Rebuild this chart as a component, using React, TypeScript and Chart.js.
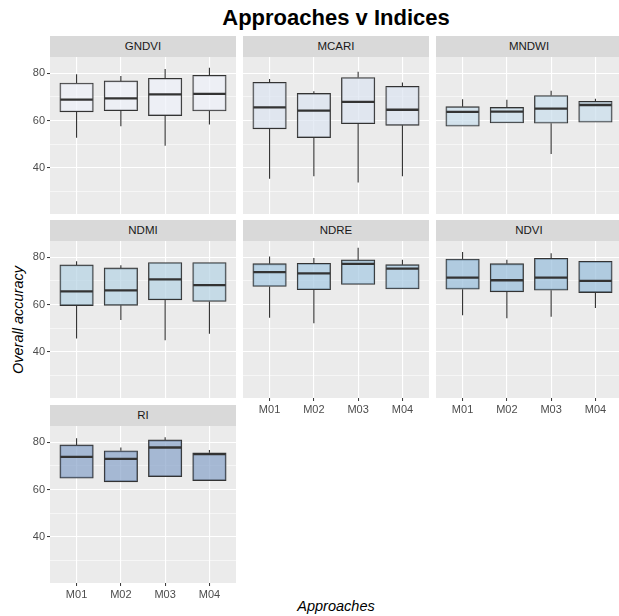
import React, { useEffect, useRef } from 'react';
import { Chart, registerables } from 'chart.js';

Chart.register(...registerables);

const approaches = ['M01', 'M02', 'M03', 'M04'];
const indexNames = ['GNDVI', 'MCARI', 'MNDWI', 'NDMI', 'NDRE', 'NDVI', 'RI'];

// five-number summaries per approach: [min, q1, median, q3, max]
const gndvi = [[52.7, 63.7, 68.9, 75.9, 79.6], [57.6, 64.2, 69.4, 76.8, 78.9], [49.4, 62.1, 71.1, 77.9, 81.8], [58.4, 64.1, 71.3, 79.2, 82.4]];
const mcari = [[35.4, 56.5, 65.6, 76.2, 77.6], [36.5, 52.8, 64.2, 71.5, 72.4], [33.8, 58.7, 67.9, 78.2, 80.7], [36.5, 58.0, 64.6, 74.5, 76.1]];
const mndwi = [[57.6, 57.6, 63.7, 65.9, 69.0], [59.0, 59.0, 63.8, 65.6, 68.8], [45.9, 58.9, 65.1, 70.6, 72.6], [59.3, 59.3, 66.6, 68.2, 69.2]];
const ndmi = [[45.7, 59.6, 65.6, 76.8, 78.3], [53.5, 59.7, 66.0, 75.5, 76.6], [44.9, 62.0, 70.7, 77.8, 77.8], [47.7, 61.3, 68.2, 77.8, 77.8]];
const ndre = [[54.4, 67.7, 73.7, 77.3, 80.3], [52.1, 66.3, 73.2, 77.5, 79.7], [68.5, 68.5, 77.2, 78.9, 84.0], [66.6, 66.6, 75.2, 76.9, 79.0]];
const ndvi = [[55.5, 66.5, 71.4, 79.3, 82.3], [54.2, 65.4, 70.3, 77.3, 79.0], [54.9, 66.1, 71.4, 79.6, 81.7], [58.6, 65.1, 70.0, 78.3, 78.3]];
const ri = [[64.8, 64.8, 73.8, 78.9, 81.7], [63.3, 63.3, 73.0, 76.4, 77.8], [65.5, 65.5, 77.8, 81.0, 82.1], [63.8, 63.8, 75.0, 75.6, 76.8]];

const allStats = [gndvi, mcari, mndwi, ndmi, ndre, ndvi, ri];
const fills = [
  'rgba(238,241,249,0.7)',
  'rgba(219,228,241,0.7)',
  'rgba(201,222,236,0.7)',
  'rgba(181,211,228,0.7)',
  'rgba(165,201,226,0.7)',
  'rgba(151,189,219,0.7)',
  'rgba(136,162,201,0.7)',
];

const yTicks = [30, 40, 50, 60, 70, 80];
const yLabelled = [40, 60, 80];
const yMin = 20.5;
const yMax = 86.9;

const FONT = "'Liberation Sans', Arial, sans-serif";
const colLeft = [50, 243, 436];
const panelTop = [57, 241, 426];
const panelW = 186;
const panelH = 157;
const yAxisW = 24;
const xAxisH = 20;

const bgPlugin = {
  id: 'panelBg',
  beforeDraw(chart: any) {
    const { ctx, chartArea } = chart;
    ctx.save();
    ctx.fillStyle = '#EBEBEB';
    ctx.fillRect(chartArea.left, chartArea.top, chartArea.right - chartArea.left, chartArea.bottom - chartArea.top);
    ctx.restore();
  },
};

function makeBoxPlugin(stats: number[][]) {
  return {
    id: 'boxExtras',
    afterDatasetsDraw(chart: any) {
      const { ctx, chartArea } = chart;
      const xs = chart.scales.x;
      const ys = chart.scales.y;
      const meta = chart.getDatasetMeta(0);
      ctx.save();
      ctx.beginPath();
      ctx.rect(chartArea.left, chartArea.top, chartArea.right - chartArea.left, chartArea.bottom - chartArea.top);
      ctx.clip();
      ctx.strokeStyle = '#333333';
      stats.forEach((s, i) => {
        const px = xs.getPixelForValue(i + 1);
        const half = (meta.data[i] ? meta.data[i].width : 33.5) / 2;
        ctx.lineWidth = 1.1;
        ctx.beginPath();
        ctx.moveTo(px, ys.getPixelForValue(s[3]));
        ctx.lineTo(px, ys.getPixelForValue(s[4]));
        ctx.moveTo(px, ys.getPixelForValue(s[1]));
        ctx.lineTo(px, ys.getPixelForValue(s[0]));
        ctx.stroke();
        ctx.lineWidth = 2.3;
        ctx.beginPath();
        const my = ys.getPixelForValue(s[2]);
        ctx.moveTo(px - half + 0.5, my);
        ctx.lineTo(px + half - 0.5, my);
        ctx.stroke();
      });
      ctx.restore();
    },
  };
}

function Panel({ idx }: { idx: number }) {
  const ref = useRef<HTMLCanvasElement | null>(null);
  const col = idx % 3;
  const row = Math.floor(idx / 3);
  const showY = col === 0;
  const showX = idx >= 4;
  const stats = allStats[idx];
  const left = colLeft[col] - (showY ? yAxisW : 0);
  const top = panelTop[row];
  const w = panelW + (showY ? yAxisW : 0);
  const h = panelH + (showX ? xAxisH : 0);

  useEffect(() => {
    if (!ref.current) return;
    const boxes = stats.map((s, i) => ({ x: i + 1, y: [s[1], s[3]] }));
    const chart = new Chart(ref.current, {
      type: 'bar',
      data: {
        datasets: [
          {
            data: boxes as any,
            backgroundColor: fills[idx],
            borderColor: '#333333',
            borderWidth: 1.1,
            borderSkipped: false,
            barThickness: 33.5,
          } as any,
        ],
      },
      options: {
        animation: false,
        responsive: false,
        maintainAspectRatio: false,
        layout: { padding: 0 },
        plugins: { legend: { display: false }, tooltip: { enabled: false }, title: { display: false } },
        scales: {
          x: {
            type: 'linear',
            min: 0.4,
            max: 4.6,
            offset: false,
            afterBuildTicks: (s: any) => {
              s.ticks = approaches.map((_, i) => ({ value: i + 1 }));
            },
            afterFit: (s: any) => {
              s.height = showX ? xAxisH : 0;
              s.paddingLeft = 0;
              s.paddingRight = 0;
              s.paddingTop = 0;
              s.paddingBottom = 0;
            },
            ticks: {
              display: showX,
              autoSkip: false,
              maxRotation: 0,
              padding: 2,
              color: '#4D4D4D',
              font: { family: FONT, size: 11 },
              callback: (v: any) => approaches[Math.round(Number(v)) - 1] ?? '',
            },
            grid: {
              offset: false,
              color: '#FFFFFF',
              lineWidth: 1.1,
              drawTicks: showX,
              tickLength: 3,
              tickColor: '#333333',
              tickWidth: 1,
            },
            border: { display: false },
          } as any,
          y: {
            type: 'linear',
            min: yMin,
            max: yMax,
            afterBuildTicks: (s: any) => {
              s.ticks = yTicks.map((v) => ({ value: v }));
            },
            afterFit: (s: any) => {
              s.width = showY ? yAxisW : 0;
              s.paddingTop = 0;
              s.paddingBottom = 0;
              s.paddingLeft = 0;
              s.paddingRight = 0;
            },
            ticks: {
              display: showY,
              padding: 2,
              color: '#4D4D4D',
              font: { family: FONT, size: 11 },
              callback: (v: any) => (yLabelled.includes(Number(v)) ? String(v) : ''),
            },
            grid: {
              color: '#FFFFFF',
              lineWidth: (c: any) => (c.tick && yLabelled.includes(c.tick.value) ? 1.1 : 0.55),
              drawTicks: showY,
              tickLength: 3,
              tickColor: (c: any) => (c.tick && yLabelled.includes(c.tick.value) ? '#333333' : 'rgba(0,0,0,0)'),
              tickWidth: 1,
            },
            border: { display: false },
          } as any,
        },
      },
      plugins: [bgPlugin, makeBoxPlugin(stats)],
    });
    return () => chart.destroy();
  }, []);

  return (
    <>
      <div
        style={{
          position: 'absolute',
          left: colLeft[col],
          top: top - 21,
          width: panelW,
          height: 21,
          background: '#D9D9D9',
          color: '#1A1A1A',
          fontFamily: FONT,
          fontSize: 11.5,
          lineHeight: '21px',
          textAlign: 'center',
        }}
      >
        {indexNames[idx]}
      </div>
      <div style={{ position: 'absolute', left, top, width: w, height: h }}>
        <canvas ref={ref} width={w} height={h} style={{ width: w, height: h, display: 'block' }} />
      </div>
    </>
  );
}

export default function App() {
  return (
    <div
      style={{
        position: 'fixed',
        left: 0,
        top: 0,
        width: 619,
        height: 616,
        overflow: 'hidden',
        background: '#FFFFFF',
        fontFamily: FONT,
      }}
    >
      <div
        style={{
          position: 'absolute',
          left: 336,
          top: 18,
          transform: 'translate(-50%, -50%)',
          fontSize: 22,
          fontWeight: 'bold',
          color: '#000',
          whiteSpace: 'nowrap',
        }}
      >
        Approaches v Indices
      </div>
      {indexNames.map((_, i) => (
        <Panel key={i} idx={i} />
      ))}
      <div
        style={{
          position: 'absolute',
          left: 18,
          top: 320,
          transform: 'translate(-50%, -50%) rotate(-90deg)',
          fontSize: 14.5,
          fontStyle: 'italic',
          color: '#000',
          whiteSpace: 'nowrap',
        }}
      >
        Overall accuracy
      </div>
      <div
        style={{
          position: 'absolute',
          left: 336,
          top: 606,
          transform: 'translate(-50%, -50%)',
          fontSize: 14.5,
          fontStyle: 'italic',
          color: '#000',
          whiteSpace: 'nowrap',
        }}
      >
        Approaches
      </div>
    </div>
  );
}
